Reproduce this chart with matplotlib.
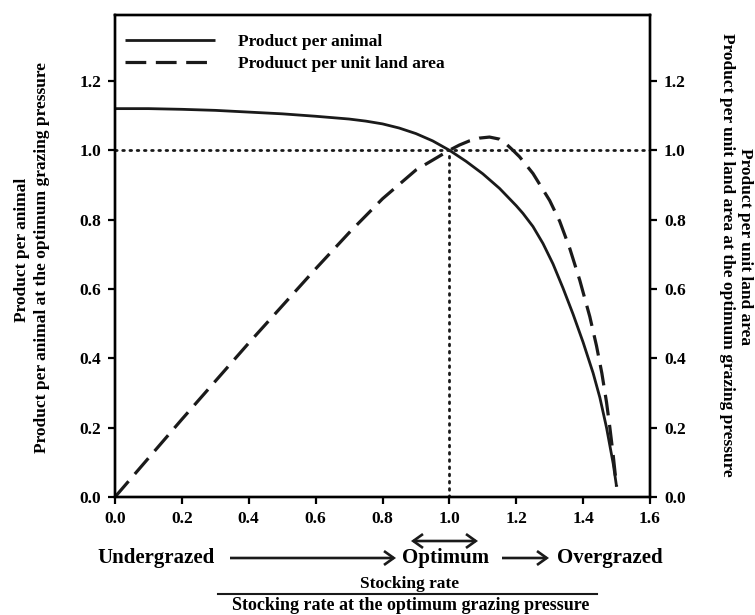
import matplotlib
matplotlib.use("Agg")
import matplotlib.pyplot as plt
from matplotlib.patches import FancyArrowPatch
from matplotlib.lines import Line2D

# ---- data ----
animal_x = [0.0, 0.1, 0.2, 0.3, 0.4, 0.5, 0.6, 0.7, 0.75, 0.8, 0.85, 0.9, 0.95, 1.0,
            1.05, 1.1, 1.15, 1.2, 1.22, 1.25, 1.28, 1.31, 1.34, 1.37, 1.4, 1.43, 1.45,
            1.47, 1.49, 1.5]
animal_y = [1.12, 1.12, 1.118, 1.115, 1.11, 1.105, 1.098, 1.09, 1.084, 1.076, 1.064, 1.048,
            1.027, 1.0, 0.968, 0.932, 0.89, 0.84, 0.818, 0.78, 0.731, 0.672, 0.602, 0.527,
            0.446, 0.357, 0.287, 0.20, 0.096, 0.03]

land_x = [0.0, 0.2, 0.4, 0.6, 0.7, 0.8, 0.9, 1.0, 1.03, 1.06, 1.09, 1.12, 1.15, 1.17, 1.19,
          1.21, 1.25, 1.3, 1.33, 1.36, 1.39, 1.42, 1.44, 1.456, 1.47, 1.48, 1.49, 1.5]
land_y = [0.0, 0.224, 0.444, 0.658, 0.762, 0.86, 0.943, 1.0, 1.015, 1.027, 1.035, 1.038, 1.032,
          1.018, 1.0, 0.981, 0.933, 0.855, 0.795, 0.717, 0.625, 0.52, 0.436, 0.357, 0.273,
          0.20, 0.12, 0.03]

x_ticks = [0.0, 0.2, 0.4, 0.6, 0.8, 1.0, 1.2, 1.4, 1.6]
y_ticks = [0.0, 0.2, 0.4, 0.6, 0.8, 1.0, 1.2]
legend_labels = ["Product per animal", "Produuct per unit land area"]

plt.rcParams['font.family'] = ['Liberation Serif', 'DejaVu Serif']
plt.rcParams['font.weight'] = 'bold'

INK = '#1a1a1a'
W, H = 755, 615

def fx(px):
    return px / W

def fy(py):
    return 1 - py / H

fig = plt.figure(figsize=(7.55, 6.15), dpi=100)
ax = fig.add_axes([fx(115), fy(497), (650 - 115) / W, (497 - 15) / H])

ax.plot(animal_x, animal_y, color=INK, lw=2.0, solid_capstyle='butt', solid_joinstyle='round',
        label=legend_labels[0])
ax.plot(land_x, land_y, color=INK, lw=2.3, dashes=(6.5, 3.0), label=legend_labels[1])
ax.plot([0, 1.6], [1.0, 1.0], color=INK, lw=2.0, linestyle=(0, (0.6, 2.0)), dash_capstyle='round')
ax.plot([1.0, 1.0], [0, 1.0], color=INK, lw=2.0, linestyle=(0, (0.6, 2.0)), dash_capstyle='round')

TICK_FS = 12.5
ax.set_xlim(0, 1.6)
ax.set_ylim(0, 1.39)
ax.set_xticks(x_ticks)
ax.set_xticklabels([f"{t:.1f}" for t in x_ticks], fontsize=TICK_FS, fontweight='bold')
ax.set_yticks(y_ticks)
ax.set_yticklabels([f"{t:.1f}" for t in y_ticks], fontsize=TICK_FS, fontweight='bold')
for s in ax.spines.values():
    s.set_linewidth(1.7)
ax.tick_params(direction='out', length=5, width=1.6, pad=5)

ax2 = ax.twinx()
ax2.set_ylim(0, 1.39)
ax2.set_yticks(y_ticks)
ax2.set_yticklabels([f"{t:.1f}" for t in y_ticks], fontsize=TICK_FS, fontweight='bold')
ax2.tick_params(direction='out', length=5, width=1.6, pad=5)
for s in ax2.spines.values():
    s.set_linewidth(1.7)

ax.legend(loc='upper left', frameon=False, handlelength=5.2,
          bbox_to_anchor=(3 / 535, 1 - 12 / 482), borderaxespad=0, borderpad=0.4,
          labelspacing=0.32, handletextpad=1.3,
          prop={'weight': 'bold', 'size': 12.5})

# side labels
SIDE_FS = 12.5
fig.text(fx(22), fy(250), "Product per animal", rotation=90, ha='center', va='center',
         fontsize=SIDE_FS, fontweight='bold')
fig.text(fx(42), fy(257), "Product per animal at the optimum grazing pressure", rotation=90,
         ha='center', va='center', fontsize=SIDE_FS, fontweight='bold')
fig.text(fx(745), fy(247), "Product per unit land area", rotation=-90, ha='center', va='center',
         fontsize=SIDE_FS, fontweight='bold')
fig.text(fx(727), fy(255), "Product per unit land area at the optimum grazing pressure", rotation=-90,
         ha='center', va='center', fontsize=SIDE_FS, fontweight='bold')

# bottom annotations
BIG_FS = 15
fig.text(fx(156), fy(558), "Undergrazed", ha='center', va='center', fontsize=BIG_FS, fontweight='bold')
fig.text(fx(446), fy(558), "Optimum", ha='center', va='center', fontsize=BIG_FS, fontweight='bold')
fig.text(fx(610), fy(558), "Overgrazed", ha='center', va='center', fontsize=BIG_FS, fontweight='bold')

arrow_kw = dict(lw=1.9, color=INK, mutation_scale=20, shrinkA=0, shrinkB=0,
                transform=fig.transFigure, capstyle='butt', joinstyle='miter')
fig.add_artist(FancyArrowPatch((fx(230), fy(558)), (fx(396), fy(558)),
                               arrowstyle='->,head_length=0.35,head_width=0.25', **arrow_kw))
fig.add_artist(FancyArrowPatch((fx(502), fy(558)), (fx(549), fy(558)),
                               arrowstyle='->,head_length=0.35,head_width=0.25', **arrow_kw))
fig.add_artist(FancyArrowPatch((fx(411), fy(541)), (fx(478), fy(541)),
                               arrowstyle='<->,head_length=0.35,head_width=0.25', **arrow_kw))

fig.text(fx(410), fy(584), "Stocking rate", ha='center', va='center', fontsize=12.5, fontweight='bold')
fig.add_artist(Line2D([fx(218), fx(597)], [fy(594), fy(594)], transform=fig.transFigure,
                      color=INK, lw=1.5))
fig.text(fx(411), fy(605), "Stocking rate at the optimum grazing pressure", ha='center', va='center',
         fontsize=13, fontweight='bold')

fig.savefig("out.png", dpi=100)
